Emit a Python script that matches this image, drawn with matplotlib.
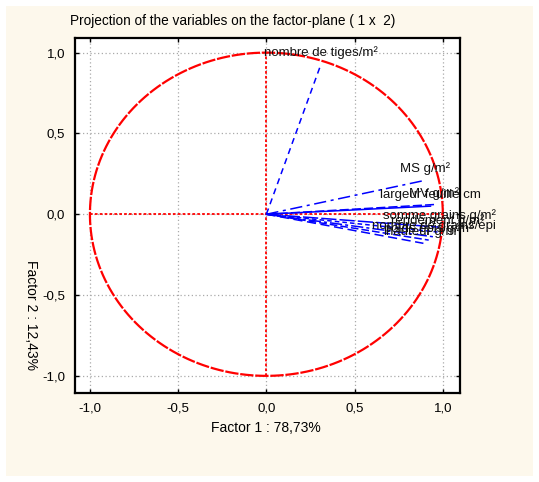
import matplotlib
matplotlib.use("Agg")
import matplotlib.pyplot as plt
import numpy as np
from matplotlib.patches import Rectangle
from matplotlib.ticker import FuncFormatter

plt.rcParams['font.family'] = ['Liberation Sans', 'DejaVu Sans']

# variable coordinates on factors 1 and 2
variables = ["nombre de tiges/m²", "MS g/m²", "MV g/m²", "largeur feuille cm",
             "somme grains g/m²", "rendement g/m²", "nombre de grains/épi",
             "poids épis g/m²", "hauteur g/m²"]
factor1 = [0.31, 0.90, 0.95, 0.93, 0.98, 0.97, 0.95, 0.92, 0.89]
factor2 = [0.93, 0.21, 0.06, 0.05, -0.08, -0.11, -0.14, -0.16, -0.18]
dash_styles = [(0, (4, 3)), (0, (8, 3, 2, 3)), (0, (6, 2)), '-', (0, (10, 2)),
               (0, (3, 2)), (0, (8, 2, 2, 2)), (0, (5, 2)), (0, (6, 3))]
ticks = [-1.0, -0.5, 0.0, 0.5, 1.0]

fig = plt.figure(figsize=(5.39, 4.82), dpi=100, facecolor='white')
fig.patches.append(Rectangle((6 / 539, 1 - 476 / 482), 527 / 539, 470 / 482,
                             transform=fig.transFigure, facecolor='#fdf8ec',
                             edgecolor='none', zorder=-10))

ax = fig.add_axes([0.139, 0.185, 0.714, 0.736])
ax.set_facecolor('white')

# unit circle and axes through origin
theta = np.linspace(0, 2 * np.pi, 400)
ax.plot(np.cos(theta), np.sin(theta), color='red', lw=1.6, ls=(0, (6, 0.8)), zorder=3)
ax.plot([-1, 1], [0, 0], color='red', lw=1.3, ls=(0, (1.5, 1.2)), zorder=3)
ax.plot([0, 0], [-1, 1], color='red', lw=1.3, ls=(0, (1.5, 1.2)), zorder=3)

# variable vectors
for name, x, y, ls in zip(variables, factor1, factor2, dash_styles):
    ax.plot([0, x], [0, y], color='blue', lw=1.1, ls=ls, zorder=4)
    ax.text(x, y + 0.07, name, ha='center', va='center', fontsize=9.5,
            color='#111111', zorder=5)

ax.set_xlim(-1.085, 1.096)
ax.set_ylim(-1.105, 1.09)
ax.set_xticks(ticks)
ax.set_yticks(ticks)
fmt = FuncFormatter(lambda v, p: f"{v:.1f}".replace('.', ','))
ax.xaxis.set_major_formatter(fmt)
ax.yaxis.set_major_formatter(fmt)
ax.tick_params(direction='in', length=3, width=1, top=True, right=True,
               labelsize=9.5, pad=7)
ax.grid(True, color='#aaaaaa', ls=(0, (1, 2)), lw=0.9)
for s in ax.spines.values():
    s.set_linewidth(1.6)

fig.text(70 / 539, 1 - 21 / 482, "Projection of the variables on the factor-plane ( 1 x  2)",
         fontsize=9.8, ha='left', va='center')
fig.text(266 / 539, 1 - 428 / 482, "Factor 1 : 78,73%", fontsize=10,
         ha='center', va='center')
fig.text(31 / 539, 1 - 315 / 482, "Factor 2 : 12,43%", fontsize=10,
         ha='center', va='center', rotation=270)

fig.savefig("out.png", dpi=100, facecolor=fig.get_facecolor())
